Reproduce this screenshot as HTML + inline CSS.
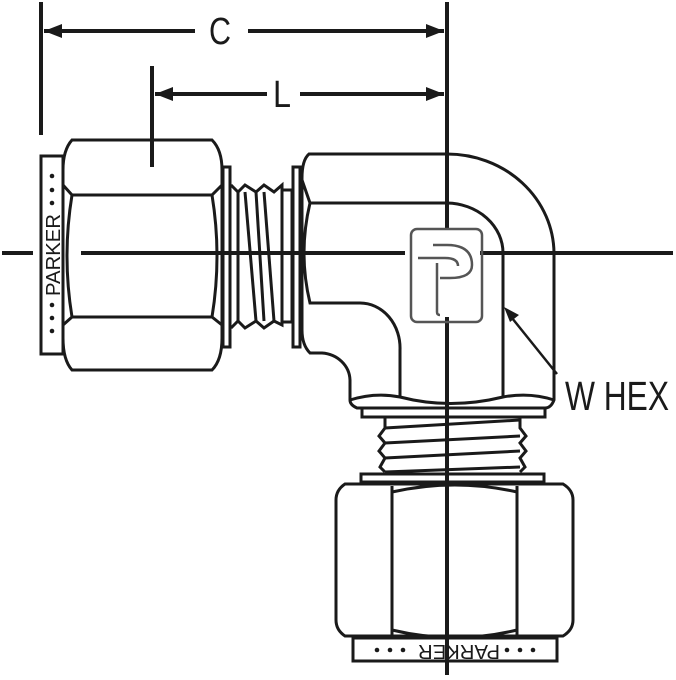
<!DOCTYPE html>
<html><head><meta charset="utf-8"><style>html,body{margin:0;padding:0;background:#fff}svg{display:block}</style></head>
<body>
<svg width="676" height="680" viewBox="0 0 676 680" xmlns="http://www.w3.org/2000/svg" font-family="Liberation Sans, sans-serif">
<defs>
<marker id="ar" markerWidth="10" markerHeight="10" refX="9" refY="5" orient="auto" markerUnits="userSpaceOnUse"><path d="M0,0 L16,5 L0,10 Z" fill="#1a1a1a" transform="scale(0.62,1)"/></marker>
</defs>
<g stroke="#1a1a1a" fill="none" stroke-width="4">
<!-- dimension extension lines -->
<line x1="41" y1="2" x2="41" y2="135"/>
<line x1="447" y1="2" x2="447" y2="230"/>
<line x1="447" y1="317" x2="447" y2="675"/>
<line x1="152" y1="66" x2="152" y2="167"/>
<!-- C dimension -->
<line x1="44" y1="31" x2="195" y2="31"/>
<line x1="248" y1="31" x2="444" y2="31"/>
<path d="M44,31 L62,24 L62,38 Z" fill="#1a1a1a" stroke="none"/>
<path d="M444,31 L426,24 L426,38 Z" fill="#1a1a1a" stroke="none"/>
<!-- L dimension -->
<line x1="155" y1="94" x2="267" y2="94"/>
<line x1="300" y1="94" x2="444" y2="94"/>
<path d="M155,94 L173,87 L173,101 Z" fill="#1a1a1a" stroke="none"/>
<path d="M444,94 L426,87 L426,101 Z" fill="#1a1a1a" stroke="none"/>
<!-- horizontal centerline -->
<line x1="2" y1="253" x2="33" y2="253"/>
<line x1="81" y1="253" x2="405" y2="253"/>
<line x1="480" y1="253" x2="673" y2="253"/>
</g>
<g stroke="#1a1a1a" fill="none" stroke-width="3">
<!-- left plate -->
<rect x="41" y="156" width="22" height="198"/>
<!-- left hex nut -->
<path d="M72,140 L212,140 Q222,150 222,170 L222,338 Q222,360 212,370 L72,370 Q63,360 63,338 L63,170 Q63,150 72,140 Z"/>
<path d="M63,185 L72,195 L212,195 L222,185"/>
<path d="M63,325 L72,317 L212,317 L222,325"/>
<path d="M72,195 Q62,256 72,317"/>
<path d="M212,195 Q222,256 212,317"/>
<!-- washer -->
<rect x="223" y="167" width="7" height="180"/>
<!-- threads -->
<path d="M231,185 L238,192 L245,185 L256,192 L264,185 L274,192 L282,185 L282,325 L274,321 L264,328 L256,321 L245,328 L238,321 L231,328"/>
<line x1="238" y1="192" x2="238" y2="321"/>
<line x1="245" y1="192" x2="256" y2="321"/>
<line x1="256" y1="192" x2="264" y2="321"/>
<line x1="264" y1="192" x2="274" y2="321"/>
<rect x="282" y="190" width="10" height="132"/>
<rect x="293" y="167" width="7" height="180"/>
<!-- elbow body -->
<path d="M309,154 L447,154 A107,100 0 0 1 554,253 L554,400 Q551,408 545,408 L357,408 Q350,405 350,400 L350,380 A30,28 0 0 0 322,353 L310,353 Q302,345 302,330 L302,178 Q302,160 309,154 Z"/>
<path d="M302,180 L310,203 L447,203 A57,50 0 0 1 503,253 L503,397"/>
<path d="M310,203 Q298,253 310,303 L360,303 A40,45 0 0 1 400,350 L400,397"/>
<path d="M350,400 Q375,392 400,397 Q450,410 503,397 Q530,392 554,400"/>
<!-- Parker logo -->
<rect x="411" y="229" width="71" height="93" rx="6" stroke="#555" stroke-width="2.5"/>
<path d="M433,245 L447,245 Q472,245 472,265 Q472,278 450,278 L440,278" stroke="#555" stroke-width="2.5"/>
<path d="M418,258 L445,258 Q458,258 458,266" stroke="#555" stroke-width="2.5"/>
<path d="M437,263 L437,312 Q437,315 440,315" stroke="#555" stroke-width="2.5"/>
<!-- bottom washer/thread -->
<rect x="362" y="408" width="183" height="9"/>
<path d="M385,417 L385,428 L379,436 L385,443 L379,451 L385,458 L380,467 L385,472"/>
<path d="M520,417 L520,428 L526,436 L520,443 L526,451 L520,458 L525,467 L520,472"/>
<line x1="385" y1="428" x2="520" y2="420"/>
<line x1="385" y1="443" x2="520" y2="436"/>
<line x1="385" y1="458" x2="520" y2="451"/>
<line x1="385" y1="472" x2="520" y2="467"/>
<rect x="361" y="474" width="183" height="8"/>
<!-- bottom hex nut -->
<path d="M345,484 L563,484 Q573,490 573,500 L573,620 Q573,630 563,636 L345,636 Q336,630 336,620 L336,500 Q336,490 345,484 Z"/>
<path d="M392,486 L392,635"/>
<path d="M517,486 L517,635"/>
<path d="M392,492 Q455,478 517,492"/>
<path d="M392,630 Q455,645 517,630"/>
<rect x="353" y="638" width="204" height="23"/>
<!-- leader -->
<line x1="557" y1="374" x2="512" y2="318" stroke-width="2.5"/>
</g>
<path d="M504,307 L519,315 L510,322 Z" fill="#1a1a1a"/>
<!-- text -->
<g fill="#1a1a1a">
<text x="209" y="44" font-size="38" textLength="22" lengthAdjust="spacingAndGlyphs">C</text>
<text x="273" y="107" font-size="38" textLength="18" lengthAdjust="spacingAndGlyphs">L</text>
<text x="565" y="410" font-size="41" textLength="104" lengthAdjust="spacingAndGlyphs">W HEX</text>
<text transform="translate(60,296) rotate(-90)" font-size="20" textLength="82" lengthAdjust="spacingAndGlyphs">PARKER</text>
<text transform="translate(416,643) rotate(180)" font-size="20" textLength="82" lengthAdjust="spacingAndGlyphs" x="-84" y="-2">PARKER</text>
</g>
<g fill="#1a1a1a">
<circle cx="52" cy="176" r="2.3"/><circle cx="52" cy="190" r="2.3"/><circle cx="52" cy="203" r="2.3"/>
<circle cx="52" cy="305" r="2.3"/><circle cx="52" cy="318" r="2.3"/><circle cx="52" cy="331" r="2.3"/>
<circle cx="377" cy="650" r="2.3"/><circle cx="390" cy="650" r="2.3"/><circle cx="403" cy="650" r="2.3"/>
<circle cx="507" cy="650" r="2.3"/><circle cx="520" cy="650" r="2.3"/><circle cx="533" cy="650" r="2.3"/>
</g>
</svg>
</body></html>
